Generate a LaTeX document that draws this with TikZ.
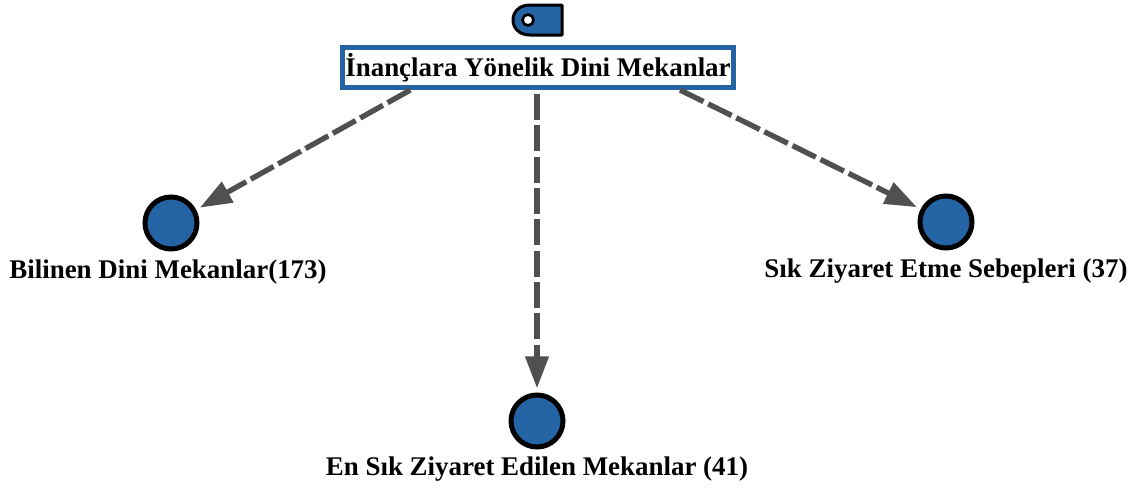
\documentclass[tikz,border=0pt]{standalone}
\usepackage{fontspec}
\setmainfont{Liberation Serif}
\usetikzlibrary{arrows.meta,positioning}
\definecolor{themeblue}{RGB}{36,100,164}
\definecolor{linkgray}{RGB}{80,80,80}
\tikzset{every picture/.style={line width=0.75pt}}
\tikzset{
  rootbox/.style={draw=themeblue,line width=3.75pt,fill=white,minimum width=293pt,minimum height=30pt,inner sep=0pt,font=\bfseries\fontsize{20.2}{22}\selectfont},
  topic/.style={circle,draw=black,fill=themeblue,line width=3.75pt,minimum size=39pt,inner sep=0pt,outer sep=5pt},
  topiclabel/.style={inner sep=0pt,font=\bfseries\fontsize{20.2}{22}\selectfont},
  link/.style={draw=linkgray,line width=4pt,dash pattern=on 19.6pt off 3.9pt,-{Triangle[length=24pt,width=17pt]}}
}
\begin{document}
\begin{tikzpicture}[x=0.75pt,y=0.75pt,yscale=-1,xscale=1]
\useasboundingbox (0,0) rectangle (1140,487);

% Tag icon
\draw [black,fill=themeblue,line width=2.25pt,line join=round] (562,5) -- (530,5) .. controls (519,5) and (513,12) .. (513,20) .. controls (513,28) and (519,35) .. (530,35) -- (562,35) -- cycle ;
\draw [black,fill=white,line width=2pt] (528,20) circle [radius=5.5] ;

% Nodes
\node [rootbox] (root) at (538,67.5) {İnançlara Yönelik Dini Mekanlar};
\node [topic] (known) at (171,223) {};
\node [topic] (reason) at (946,222) {};
\node [topic] (visited) at (537,421) {};

% Text Nodes
\node [topiclabel,below=2.75pt of known,xshift=-2.25pt] (knownlabel) {Bilinen Dini Mekanlar(173)};
\node [topiclabel,below=2.75pt of reason] (reasonlabel) {Sık Ziyaret Etme Sebepleri (37)};
\node [topiclabel,below=1.75pt of visited] (visitedlabel) {En Sık Ziyaret Edilen Mekanlar (41)};

% Links
\draw [link] (root.190) -- (known.28) ;
\draw [link] (root.-9) -- (reason.153) ;
\draw [link,shorten <=3pt] (root.south -| visited) -- (visited.north) ;
\end{tikzpicture}
\end{document}
